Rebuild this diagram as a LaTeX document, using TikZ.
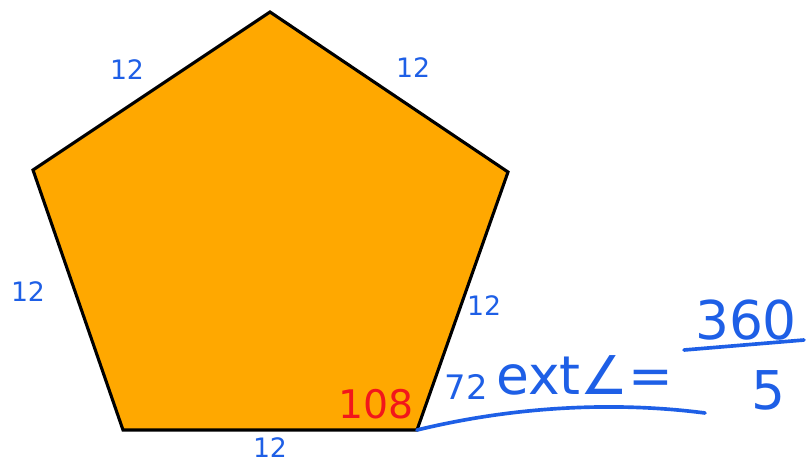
\documentclass[tikz,border=0pt]{standalone}
\usepackage{fontspec}
\setmainfont{DejaVu Sans}
\usepackage{tikz}
\definecolor{penta}{HTML}{FFA800}
\definecolor{ink}{HTML}{1E5FE6}
\definecolor{redink}{HTML}{F2161B}
\tikzset{side/.style={ink, font=\fontsize{19}{19}\selectfont, inner sep=1pt},
  note/.style={ink, font=\fontsize{38}{38}\selectfont}}

\begin{document}
\begin{tikzpicture}[x=0.025cm, y=-0.025cm]
            \useasboundingbox (0,0) rectangle (807,464);
            \coordinate (top) at (270,12);
            \coordinate (rt) at (508,172);
            \coordinate (br) at (417,430);
            \coordinate (bl) at (123,430);
            \coordinate (lt) at (33,170);
            \draw[line width=2.2pt, fill=penta, line join=miter] (top) -- (rt) -- (br) -- (bl) -- (lt) -- cycle;
            % side lengths
            \node[side] (s1) at (127,70) {12};
            \node[side] (s2) at (413,68) {12};
            \node[side] (s3) at (28,292) {12};
            \node[side] (s4) at (484,306) {12};
            \node[side] (s5) at (270,448) {12};
            \node[redink, font=\fontsize{28}{28}\selectfont] (int) at (376,404) {108};
            % exterior angle
            \coordinate (uend) at (705,413);
            \draw[ink, line width=2.6pt, line cap=round] (br) .. controls (520,405) and (620,402) .. (uend);
            \node[ink, font=\fontsize{24}{24}\selectfont] (ext) at (466,387) {72};
            \node[note, anchor=base west, inner sep=0pt] (word) at (496,394) {ext∠=};
            \node[ink, font=\fontsize{38}{38}\selectfont] (num) at (746,320) {360};
            \coordinate (bar1) at (684,350);
            \coordinate (bar2) at (804,340);
            \draw[ink, line width=2.6pt, line cap=round] (bar1) -- (bar2);
            \node[ink, font=\fontsize{38}{38}\selectfont] (den) at (768,390) {5};
          \end{tikzpicture}
\end{document}
